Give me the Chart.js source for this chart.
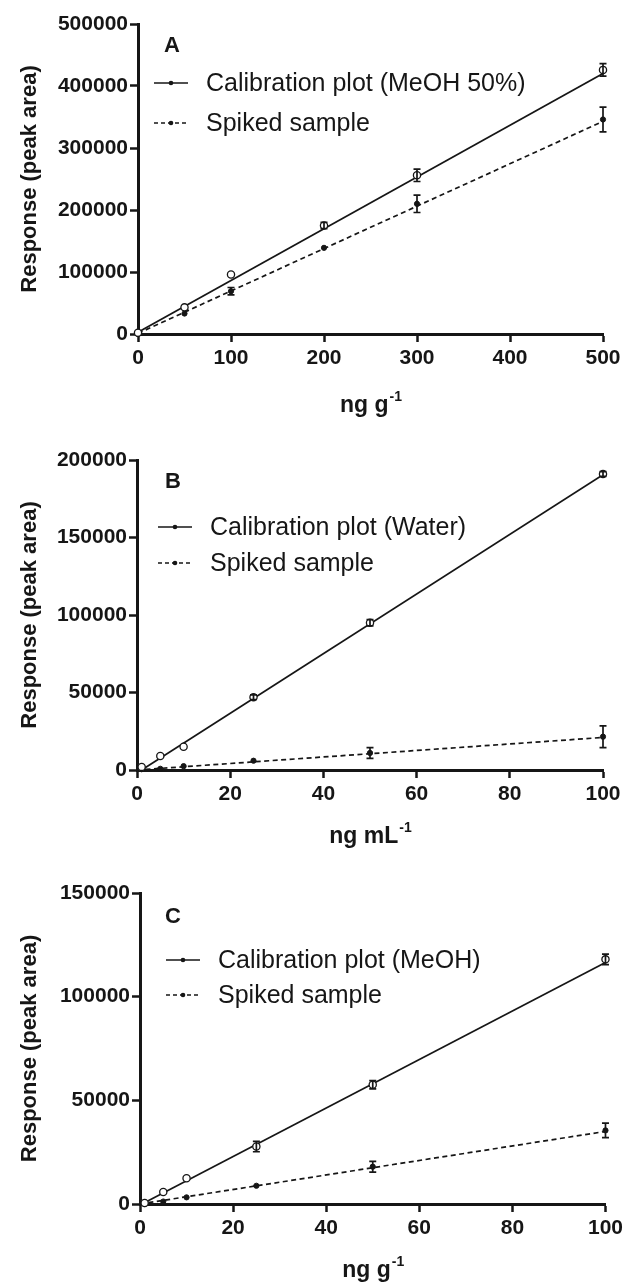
<!DOCTYPE html>
<html><head><meta charset="utf-8">
<script src="https://cdn.jsdelivr.net/npm/chart.js@4.4.1/dist/chart.umd.min.js"></script>
<style>
html,body{margin:0;padding:0;background:#fff;width:627px;height:1287px;overflow:hidden}
.p{position:absolute;left:0}
canvas{display:block}
</style></head><body>
<div class="p" style="top:0"><canvas id="cA" width="627" height="430"></canvas></div>
<div class="p" style="top:430px"><canvas id="cB" width="627" height="430"></canvas></div>
<div class="p" style="top:860px"><canvas id="cC" width="627" height="427"></canvas></div>
<script>
const FONT = "'Liberation Sans', Arial, Helvetica, sans-serif";
const INK = '#161616';

// ---------- Panel A ----------
const xA = [0, 50, 100, 200, 300, 500];
const calA = [2000, 43000, 96000, 175000, 256000, 426000];
const calErrA = [0, 0, 0, 5000, 10000, 10000];
const spkA = [0, 33000, 69000, 139000, 210000, 346000];
const spkErrA = [0, 0, 6000, 0, 14000, 20000];
const calFitXA = [0, 500];
const calFitA = [3000, 420000];
const spkFitXA = [0, 500];
const spkFitA = [1000, 343000];
const xTicksA = [0, 100, 200, 300, 400, 500];
const yTicksA = [0, 100000, 200000, 300000, 400000, 500000];

// ---------- Panel B ----------
const xB = [1, 5, 10, 25, 50, 100];
const calB = [2000, 9000, 15000, 47000, 95000, 191000];
const calErrB = [0, 0, 0, 1500, 2000, 1500];
const spkB = [500, 800, 2500, 6000, 11000, 21500];
const spkErrB = [0, 0, 0, 0, 3500, 7000];
const calFitXB = [1, 100];
const calFitB = [0, 190500];
const spkFitXB = [0, 100];
const spkFitB = [0, 21000];
const xTicksB = [0, 20, 40, 60, 80, 100];
const yTicksB = [0, 50000, 100000, 150000, 200000];

// ---------- Panel C ----------
const xC = [1, 5, 10, 25, 50, 100];
const calC = [500, 5800, 12400, 27700, 57500, 118000];
const calErrC = [0, 0, 0, 2500, 2000, 2500];
const spkC = [0, 1200, 3200, 8800, 18000, 35500];
const spkErrC = [0, 0, 0, 0, 2600, 3500];
const calFitXC = [0, 100];
const calFitC = [-500, 116500];
const spkFitXC = [0, 100];
const spkFitC = [0, 35000];
const xTicksC = [0, 20, 40, 60, 80, 100];
const yTicksC = [0, 50000, 100000, 150000];

const panels = [
  {id:'cA', letter:'A', calLabel:'Calibration plot (MeOH 50%)', spkLabel:'Spiked sample',
   xTitle:'ng g', x:xA, cal:calA, calErr:calErrA, spk:spkA, spkErr:spkErrA,
   calFitX:calFitXA, calFit:calFitA, spkFitX:spkFitXA, spkFit:spkFitA,
   xTicks:xTicksA, yTicks:yTicksA, xMax:500, yMax:500000,
   W:627, H:430, top:24, bottom:334, left:138, right:603,
   letterPos:[172,46], legY:[83,123], legLine:[154,188], legText:206, titleY:412},
  {id:'cB', letter:'B', calLabel:'Calibration plot (Water)', spkLabel:'Spiked sample',
   xTitle:'ng mL', x:xB, cal:calB, calErr:calErrB, spk:spkB, spkErr:spkErrB,
   calFitX:calFitXB, calFit:calFitB, spkFitX:spkFitXB, spkFit:spkFitB,
   xTicks:xTicksB, yTicks:yTicksB, xMax:100, yMax:200000,
   W:627, H:430, top:30, bottom:340, left:137, right:603,
   letterPos:[173,52], legY:[97,133], legLine:[158,192], legText:210, titleY:413},
  {id:'cC', letter:'C', calLabel:'Calibration plot (MeOH)', spkLabel:'Spiked sample',
   xTitle:'ng g', x:xC, cal:calC, calErr:calErrC, spk:spkC, spkErr:spkErrC,
   calFitX:calFitXC, calFit:calFitC, spkFitX:spkFitXC, spkFit:spkFitC,
   xTicks:xTicksC, yTicks:yTicksC, xMax:100, yMax:150000,
   W:627, H:427, top:33, bottom:344, left:140, right:607,
   letterPos:[173,57], legY:[100,135], legLine:[166,200], legText:218, titleY:417}
];

function makeDecor(P) {
  return {
    id: 'decor' + P.letter,
    afterDatasetsDraw(chart) {
      const ctx = chart.ctx, xs = chart.scales.x, ys = chart.scales.y;
      ctx.save();
      ctx.strokeStyle = INK; ctx.lineWidth = 1.7;
      const bars = (vals, errs) => {
        for (let i = 0; i < P.x.length; i++) {
          if (!errs[i]) continue;
          const px = xs.getPixelForValue(P.x[i]);
          const y1 = ys.getPixelForValue(vals[i] + errs[i]);
          const y2 = ys.getPixelForValue(vals[i] - errs[i]);
          ctx.beginPath();
          ctx.moveTo(px, y1); ctx.lineTo(px, y2);
          ctx.moveTo(px - 3.5, y1); ctx.lineTo(px + 3.5, y1);
          ctx.moveTo(px - 3.5, y2); ctx.lineTo(px + 3.5, y2);
          ctx.stroke();
        }
      };
      bars(P.cal, P.calErr);
      bars(P.spk, P.spkErr);
      ctx.restore();
    },
    afterDraw(chart) {
      const ctx = chart.ctx, a = chart.chartArea;
      ctx.save();
      ctx.fillStyle = INK;
      // panel letter
      ctx.font = "bold 22px " + FONT;
      ctx.textAlign = 'center'; ctx.textBaseline = 'middle';
      ctx.fillText(P.letter, P.letterPos[0], P.letterPos[1]);
      // legend
      ctx.font = "25px " + FONT;
      ctx.textAlign = 'left';
      const rows = [[P.calLabel, []], [P.spkLabel, [4, 3]]];
      rows.forEach((r, i) => {
        const y = P.legY[i];
        ctx.strokeStyle = INK; ctx.lineWidth = 1.6;
        ctx.setLineDash(r[1]);
        ctx.beginPath(); ctx.moveTo(P.legLine[0], y); ctx.lineTo(P.legLine[1], y); ctx.stroke();
        ctx.setLineDash([]);
        ctx.beginPath(); ctx.arc((P.legLine[0] + P.legLine[1]) / 2, y, 2.3, 0, Math.PI * 2); ctx.fill();
        ctx.fillText(r[0], P.legText, y + 1);
      });
      // y title
      ctx.save();
      ctx.translate(30, (a.top + a.bottom) / 2);
      ctx.rotate(-Math.PI / 2);
      ctx.font = "bold 22px " + FONT;
      ctx.textAlign = 'center'; ctx.textBaseline = 'middle';
      ctx.fillText('Response (peak area)', 0, 0);
      ctx.restore();
      // x title with superscript
      ctx.font = "bold 23px " + FONT;
      const mainW = ctx.measureText(P.xTitle).width;
      ctx.font = "bold 14px " + FONT;
      const supW = ctx.measureText('-1').width;
      const cx = (a.left + a.right) / 2;
      const x0 = cx - (mainW + supW) / 2;
      ctx.textAlign = 'left'; ctx.textBaseline = 'alphabetic';
      ctx.font = "bold 23px " + FONT;
      ctx.fillText(P.xTitle, x0, P.titleY);
      ctx.font = "bold 14px " + FONT;
      ctx.fillText('-1', x0 + mainW + 1, P.titleY - 11);
      ctx.restore();
    }
  };
}

function axisCommon(ticksArr) {
  return {
    type: 'linear',
    afterBuildTicks: s => { s.ticks = ticksArr.map(v => ({value: v})); },
    border: {display: true, color: INK, width: 3},
    grid: {display: true, drawOnChartArea: false, drawTicks: true, tickLength: 8, tickWidth: 2.5, tickColor: INK},
    ticks: {color: INK, font: {family: FONT, size: 21, weight: 'bold'}, maxRotation: 0, autoSkip: false,
            callback: v => String(v)}
  };
}

panels.forEach(P => {
  const xAxis = axisCommon(P.xTicks);
  xAxis.min = 0; xAxis.max = P.xMax;
  xAxis.ticks.padding = 4;
  xAxis.afterFit = s => { s.height = P.H - P.bottom; };
  const yAxis = axisCommon(P.yTicks);
  yAxis.min = 0; yAxis.max = P.yMax;
  yAxis.ticks.padding = 2;
  yAxis.afterFit = s => { s.width = P.left; };
  new Chart(document.getElementById(P.id), {
    type: 'scatter',
    data: {datasets: [
      {label: P.calLabel, data: P.x.map((v, i) => ({x: v, y: P.cal[i]})), showLine: false,
       pointRadius: 3.6, pointBackgroundColor: '#fff', pointBorderColor: INK, pointBorderWidth: 1.3, clip: false},
      {label: P.spkLabel, data: P.x.map((v, i) => ({x: v, y: P.spk[i]})), showLine: false,
       pointRadius: 2.6, pointBackgroundColor: INK, pointBorderColor: INK, pointBorderWidth: 1, clip: false},
      {label: 'calfit', data: P.calFitX.map((v, i) => ({x: v, y: P.calFit[i]})), showLine: true,
       borderColor: INK, borderWidth: 1.7, pointRadius: 0, fill: false},
      {label: 'spkfit', data: P.spkFitX.map((v, i) => ({x: v, y: P.spkFit[i]})), showLine: true,
       borderColor: INK, borderWidth: 1.7, borderDash: [5, 3.5], pointRadius: 0, fill: false}
    ]},
    options: {
      responsive: false, devicePixelRatio: 1, animation: false,
      layout: {padding: {top: P.top, right: P.W - P.right, left: 0, bottom: 0}},
      plugins: {legend: {display: false}, tooltip: {enabled: false}, title: {display: false}},
      scales: {x: xAxis, y: yAxis}
    },
    plugins: [makeDecor(P)]
  });
});
</script>
</body></html>
